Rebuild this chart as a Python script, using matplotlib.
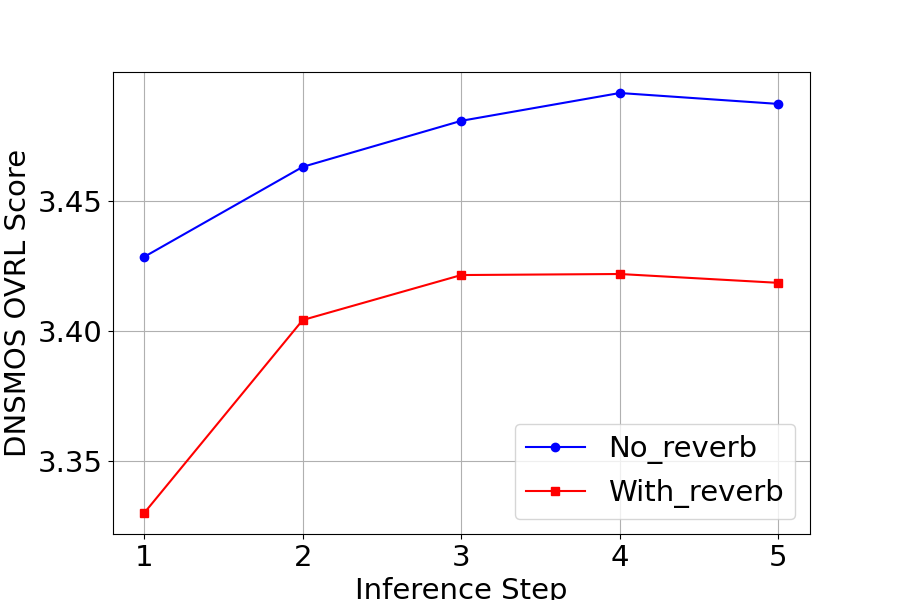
import matplotlib
matplotlib.use("Agg")
import matplotlib.pyplot as plt
from matplotlib.ticker import MultipleLocator

steps = [1, 2, 3, 4, 5]
no_reverb = [3.4285, 3.4631, 3.4808, 3.4915, 3.4873]
with_reverb = [3.3300, 3.4042, 3.4215, 3.4219, 3.4185]

FS = 21

fig = plt.figure(figsize=(9, 6), dpi=100)
ax = fig.add_subplot(111)

ax.plot(steps, no_reverb, 'b-o', label='No_reverb')
ax.plot(steps, with_reverb, 'r-s', label='With_reverb')

ax.set_xlabel('Inference Step', fontsize=FS)
ax.set_ylabel('DNSMOS OVRL Score', fontsize=FS)
ax.set_xticks(steps)
ax.yaxis.set_major_locator(MultipleLocator(0.05))
ax.tick_params(labelsize=FS)
ax.grid(True)
ax.legend(fontsize=FS, loc='lower right')

fig.savefig('out.png', dpi=100)
